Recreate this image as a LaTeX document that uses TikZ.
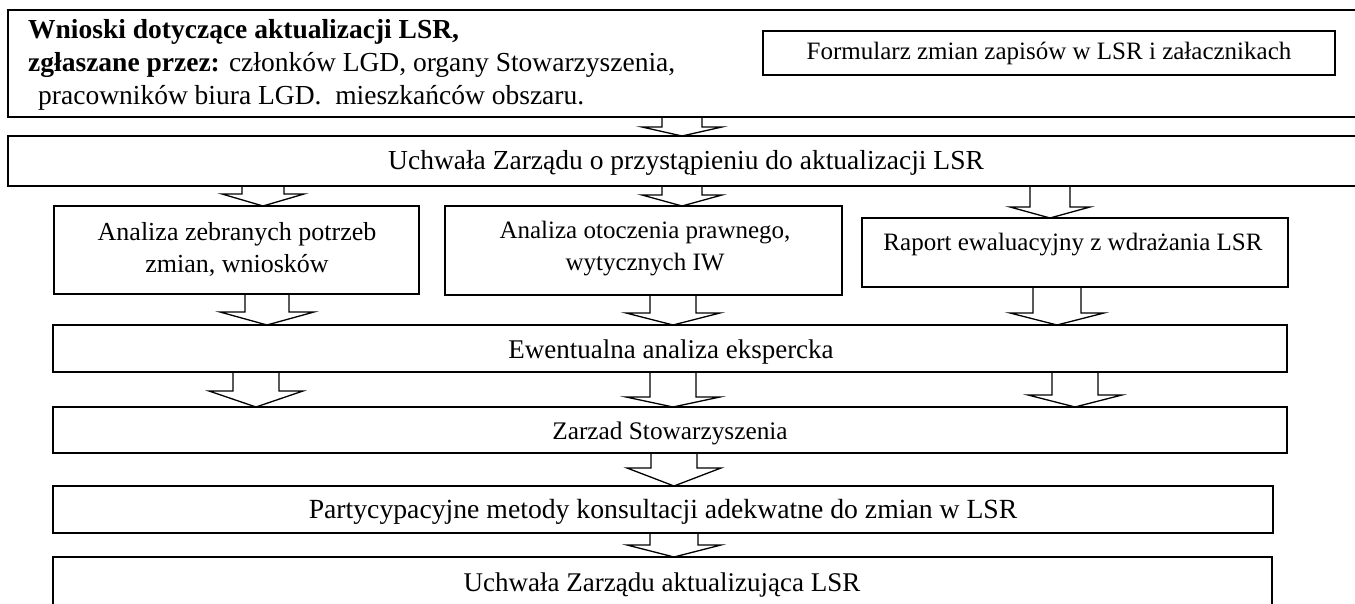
\documentclass[tikz,border=0pt]{standalone}
\usepackage{fontspec}
\setmainfont{Liberation Serif}
\tikzset{
  box/.style={draw, line width=1.3pt, anchor=north west, inner sep=0pt, outer sep=0pt},
  lbl/.style={inner sep=0pt, align=center, font=\fontsize{26}{32}\selectfont},
  blkarrow/.style={draw, line width=1.3pt, line join=miter},
}
\newcommand{\bx}[5]{\node[box, minimum width=#4pt, minimum height=#5pt] (#1) at (#2,#3) {};}
\newcommand{\blk}[6]{\draw[blkarrow] (#3-#4,0 |- #1.south) -- (#3-#4,#6) -- (#3-#5,#6) -- (#3,0 |- #2.north) -- (#3+#5,#6) -- (#3+#4,#6) -- (#3+#4,0 |- #1.south);}
\begin{document}
\begin{tikzpicture}[x=1pt,y=-1pt]
\useasboundingbox (0,0) rectangle (1355,604);
\clip (0,0) rectangle (1355,604);
% boxes
\bx{top}{8}{10}{1400}{107}
\bx{form}{763}{31}{572}{44}
\bx{uch1}{8}{136}{1400}{50}
\bx{an1}{54}{206}{365}{88}
\bx{an2}{445}{206}{397}{89}
\bx{rap}{862}{218}{426}{69}
\bx{ewe}{53}{325}{1234}{47}
\bx{zar}{53}{407}{1234}{46}
\bx{par}{53}{486}{1220}{47}
\bx{uch2}{53}{557}{1219}{100}
% texts
\node[lbl, align=left, anchor=west, font=\fontsize{27.5}{33}\selectfont] (topt) at (28,65)
  {\textbf{Wnioski dotyczące aktualizacji LSR,}\\
   \textbf{zgłaszane przez:} członków LGD, organy Stowarzyszenia,\\
   \hspace*{10pt}pracowników biura LGD.~ mieszkańców obszaru.};
\node[lbl, font=\fontsize{25}{30}\selectfont] (formt) at (1049,53) {Formularz zmian zapisów w LSR i załacznikach};
\node[lbl, font=\fontsize{27.5}{32}\selectfont] (uch1t) at (686,163) {Uchwała Zarządu o przystąpieniu do aktualizacji LSR};
\node[lbl] (an1t) at (237,249) {Analiza zebranych potrzeb\\zmian, wniosków};
\node[lbl, font=\fontsize{25}{32}\selectfont] (an2t) at (645,249) {Analiza otoczenia prawnego,\\wytycznych IW};
\node[lbl, font=\fontsize{25}{32}\selectfont] (rapt) at (1073,245) {Raport ewaluacyjny z wdrażania LSR};
\node[lbl, font=\fontsize{27}{32}\selectfont] (ewet) at (671,352) {Ewentualna analiza ekspercka};
\node[lbl, font=\fontsize{25.3}{30}\selectfont] (zart) at (670,433) {Zarzad Stowarzyszenia};
\node[lbl, font=\fontsize{27.7}{32}\selectfont] (part) at (663,512) {Partycypacyjne metody konsultacji adekwatne do zmian w LSR};
\node[lbl, font=\fontsize{27}{32}\selectfont] (uch2t) at (662,585) {Uchwała Zarządu aktualizująca LSR};
% block arrows
\blk{top}{uch1}{682}{20}{40}{127}
\blk{uch1}{an1}{263}{21}{41}{194}
\blk{uch1}{an2}{682}{20}{40}{195}
\blk{uch1}{rap}{1050}{20}{40}{207}
\blk{an1}{ewe}{267}{22}{47}{312}
\blk{an2}{ewe}{673}{23}{47}{313}
\blk{rap}{ewe}{1057}{24}{47}{313}
\blk{ewe}{zar}{256}{23}{47}{391}
\blk{ewe}{zar}{673}{23}{47}{397}
\blk{ewe}{zar}{1075}{23}{47}{395}
\blk{zar}{par}{674}{23}{47}{468}
\blk{par}{uch2}{674}{24}{47}{545}
\end{tikzpicture}
\end{document}
